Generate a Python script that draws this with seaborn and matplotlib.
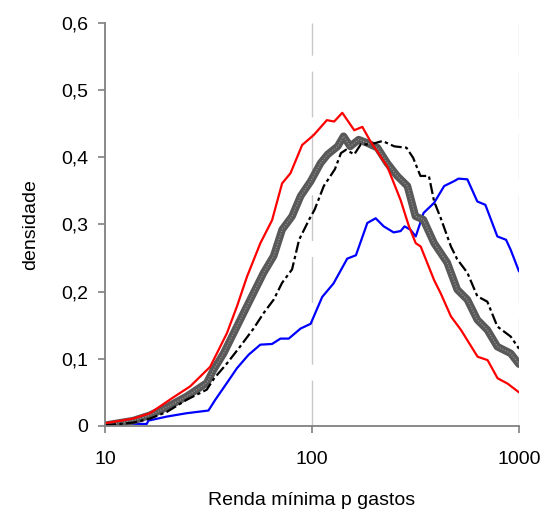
"""
Densidade da renda mínima p gastos (escala log), quatro grupos.
"""

import numpy as np
import pandas as pd
import matplotlib
matplotlib.use("Agg")
import matplotlib.pyplot as plt
from matplotlib.ticker import FixedLocator, FuncFormatter
import seaborn as sns

# ── Data ──────────────────────────────────────────────────────────────────────

RED_X = [10, 13.7, 16.5, 21.0, 25.8, 32.2, 34.7, 38.8, 43.4, 48.5, 56.3, 64.1,
         71.7, 78.7, 89.6, 102, 118, 128, 140, 160, 175, 192, 231, 268, 294,
         317, 335, 389, 419, 469, 524, 631, 705, 788, 881, 1000]
RED_Y = [0.004, 0.011, 0.019, 0.041, 0.059, 0.088, 0.108, 0.138, 0.178, 0.222,
         0.272, 0.306, 0.361, 0.376, 0.418, 0.433, 0.455, 0.453, 0.466, 0.440,
         0.445, 0.423, 0.386, 0.336, 0.297, 0.272, 0.267, 0.217, 0.197, 0.163,
         0.143, 0.103, 0.098, 0.071, 0.063, 0.050]

GRAY_X = [10, 13.7, 16.5, 19.9, 24.8, 31.0, 33.5, 37.4, 41.8, 46.7, 52.2, 58.4,
          65.3, 71.7, 80.1, 88.1, 98.5, 110, 119, 133, 142, 153, 168, 185, 207,
          231, 258, 289, 316, 345, 389, 450, 503, 563, 629, 703, 786, 912, 1000]
GRAY_Y = [0.001, 0.008, 0.016, 0.028, 0.044, 0.064, 0.084, 0.108, 0.138, 0.168,
          0.198, 0.228, 0.253, 0.292, 0.312, 0.342, 0.364, 0.391, 0.404, 0.416,
          0.431, 0.416, 0.426, 0.421, 0.414, 0.391, 0.372, 0.357, 0.312, 0.307,
          0.272, 0.243, 0.203, 0.188, 0.158, 0.143, 0.118, 0.108, 0.092]

BLACK_X = [10, 13.7, 16.5, 19.9, 24.8, 31.0, 33.7, 38.8, 44.9, 52.2, 58.4, 65.3,
           71.7, 80.1, 86.6, 96.8, 103, 114, 129, 138, 146, 160, 172, 192, 219,
           250, 286, 308, 334, 367, 389, 419, 469, 503, 563, 629, 703, 786, 912,
           1000]
BLACK_Y = [0.001, 0.005, 0.011, 0.021, 0.039, 0.054, 0.071, 0.093, 0.118, 0.145,
           0.168, 0.188, 0.213, 0.233, 0.277, 0.307, 0.322, 0.357, 0.382, 0.406,
           0.411, 0.404, 0.419, 0.419, 0.424, 0.416, 0.414, 0.399, 0.372, 0.372,
           0.334, 0.309, 0.267, 0.248, 0.228, 0.193, 0.185, 0.148, 0.133, 0.115]

BLUE_X = [10, 15.9, 16.2, 19.9, 24.8, 31.6, 34.1, 38.8, 43.4, 49.4, 56.3, 64.1,
          70.4, 77.2, 88.1, 98.5, 112, 127, 148, 163, 185, 203, 222, 248, 268,
          280, 299, 317, 346, 389, 435, 484, 510, 563, 629, 688, 786, 866, 912,
          1000]
BLUE_Y = [0.004, 0.003, 0.008, 0.014, 0.019, 0.023, 0.039, 0.064, 0.086, 0.106,
          0.121, 0.122, 0.130, 0.130, 0.145, 0.152, 0.192, 0.212, 0.249, 0.254,
          0.302, 0.309, 0.297, 0.288, 0.290, 0.297, 0.292, 0.282, 0.317, 0.332,
          0.357, 0.364, 0.368, 0.367, 0.334, 0.329, 0.282, 0.277, 0.262, 0.230]

X_TICKS = [10, 100, 1000]
Y_TICKS = [0, 0.1, 0.2, 0.3, 0.4, 0.5, 0.6]

# ── Style ─────────────────────────────────────────────────────────────────────

sns.set_style("white")
plt.rcParams["font.family"] = ["Liberation Sans", "DejaVu Sans"]
plt.rcParams["text.color"] = "black"
plt.rcParams["axes.labelcolor"] = "black"
plt.rcParams["xtick.labelcolor"] = "black"
plt.rcParams["ytick.labelcolor"] = "black"
FS = 14
SPINE = "#808080"


def comma(v, _pos):
    """Portuguese decimal comma."""
    if v == 0:
        return "0"
    return f"{v:.1f}".replace(".", ",")


# ── Plot ──────────────────────────────────────────────────────────────────────

fig = plt.figure(figsize=(5.43, 5.09), dpi=100)
ax = fig.add_axes([0.1934, 0.1631, 0.7624, 0.7923])

for xv in (100, 1000):
    ax.axvline(xv, color="#c8c8c8", lw=1.0, ls=(0, (33, 11.5)), zorder=0)

blue = pd.DataFrame({"x": BLUE_X, "y": BLUE_Y})
black = pd.DataFrame({"x": BLACK_X, "y": BLACK_Y})
gray = pd.DataFrame({"x": GRAY_X, "y": GRAY_Y})
red = pd.DataFrame({"x": RED_X, "y": RED_Y})

sns.lineplot(data=blue, x="x", y="y", ax=ax, color="#0000ff", lw=1.6)
# thick hatched-looking gray band: dark core with light speckles on top
sns.lineplot(data=gray, x="x", y="y", ax=ax, color="#595959", lw=5.5)
sns.lineplot(data=gray, x="x", y="y", ax=ax, color="#9a9a9a", lw=0.9,
             ls=(0, (0.8, 1.4)))
sns.lineplot(data=black, x="x", y="y", ax=ax, color="black", lw=1.6,
             ls=(0, (5, 1.5, 1.5, 1.5)))
sns.lineplot(data=red, x="x", y="y", ax=ax, color="#ff0000", lw=1.6)

ax.set_xscale("log")
ax.set_xlim(10, 1000)
ax.set_ylim(0, 0.6)
ax.xaxis.set_major_locator(FixedLocator(X_TICKS))
ax.xaxis.set_minor_locator(FixedLocator([]))
ax.xaxis.set_major_formatter(FuncFormatter(lambda v, p: f"{v:g}"))
ax.yaxis.set_major_locator(FixedLocator(Y_TICKS))
ax.yaxis.set_major_formatter(FuncFormatter(comma))

for side in ["top", "right"]:
    ax.spines[side].set_visible(False)
for side in ["left", "bottom"]:
    ax.spines[side].set_color(SPINE)
    ax.spines[side].set_linewidth(1.3)

ax.tick_params(axis="x", direction="out", length=5, width=1.2, color=SPINE,
               labelsize=FS, pad=13, bottom=True)
ax.tick_params(axis="y", direction="out", length=5, width=1.2, color=SPINE,
               labelsize=FS, pad=7, left=True)

ax.set_xlabel("Renda mínima p gastos", fontsize=FS, labelpad=17)
ax.set_ylabel("densidade", fontsize=FS, labelpad=16)

fig.savefig("out.png", dpi=100)
